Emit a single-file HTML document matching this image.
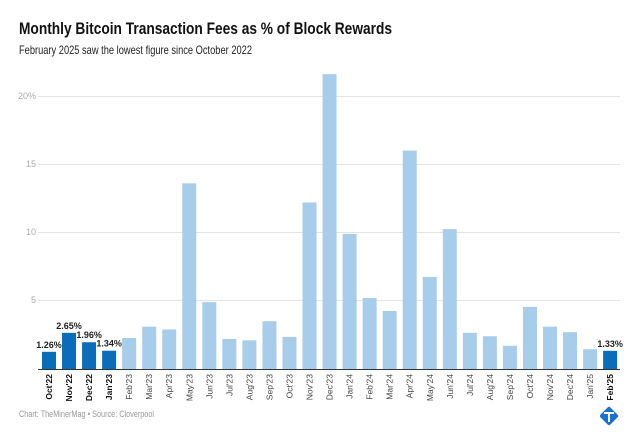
<!DOCTYPE html>
<html><head><meta charset="utf-8"><style>
body{margin:0;background:#fff;font-family:"Liberation Sans",sans-serif}
</style></head><body>
<svg width="640" height="440" xmlns="http://www.w3.org/2000/svg" font-family="Liberation Sans, sans-serif">
<rect width="640" height="440" fill="#fff"/>
<text x="19" y="34" font-size="17" font-weight="bold" fill="#111" textLength="373" lengthAdjust="spacingAndGlyphs">Monthly Bitcoin Transaction Fees as % of Block Rewards</text>
<text x="19" y="54" font-size="12" fill="#222" textLength="233" lengthAdjust="spacingAndGlyphs">February 2025 saw the lowest figure since October 2022</text>
<g stroke="#e4e4e4" stroke-width="1">
<line x1="38" x2="620" y1="96.5" y2="96.5"/><line x1="38" x2="620" y1="164.5" y2="164.5"/>
<line x1="38" x2="620" y1="232.5" y2="232.5"/><line x1="38" x2="620" y1="300.5" y2="300.5"/>
</g>
<g font-size="9" fill="#aaa" text-anchor="end">
<text x="36" y="99">20%</text><text x="36" y="167">15</text><text x="36" y="235">10</text><text x="36" y="303">5</text>
</g>
<g id="bars"></g>
<line x1="38" x2="620" y1="369.5" y2="369.5" stroke="#333" stroke-width="1"/>
<g id="labels"></g>
<text x="19" y="417" font-size="9" fill="#999" textLength="135" lengthAdjust="spacingAndGlyphs">Chart: TheMinerMag • Source: Cloverpool</text>
<g transform="translate(609,416) rotate(45)"><rect x="-7" y="-7" width="14" height="14" rx="2" fill="#1a73c8"/></g>
<path d="M604 413 h10 M609 413 v9" stroke="#fff" stroke-width="2"/>
<script>
var v=[1.26,2.65,1.96,1.34,2.27,3.1,2.9,13.6,4.9,2.2,2.1,3.5,2.35,12.2,21.6,9.9,5.2,4.25,16,6.75,10.25,2.65,2.4,1.7,4.55,3.1,2.7,1.45,1.33];
var n=["Oct'22","Nov'22","Dec'22","Jan'23","Feb'23","Mar'23","Apr'23","May'23","Jun'23","Jul'23","Aug'23","Sep'23","Oct'23","Nov'23","Dec'23","Jan'24","Feb'24","Mar'24","Apr'24","May'24","Jun'24","Jul'24","Aug'24","Sep'24","Oct'24","Nov'24","Dec'24","Jan'25","Feb'25"];
var dark=[0,1,2,3,28],lab={0:"1.26%",1:"2.65%",2:"1.96%",3:"1.34%",28:"1.33%"};
var ns="http://www.w3.org/2000/svg",b=document.getElementById("bars"),l=document.getElementById("labels");
for(var i=0;i<29;i++){var x=42+i*20.04,h=v[i]*13.65,d=dark.indexOf(i)>=0;
var r=document.createElementNS(ns,"rect");r.setAttribute("x",x);r.setAttribute("y",369-h);r.setAttribute("width",14);r.setAttribute("height",h);r.setAttribute("fill",d?"#0b6cb8":"#a7cdea");b.appendChild(r);
if(lab[i]){var t=document.createElementNS(ns,"text");t.setAttribute("x",x+7);t.setAttribute("y",369-h-4);t.setAttribute("font-size","9");t.setAttribute("font-weight","bold");t.setAttribute("fill","#222");t.setAttribute("text-anchor","middle");t.textContent=lab[i];b.appendChild(t);}
var s=document.createElementNS(ns,"text");s.setAttribute("transform","translate("+(x+10)+",374) rotate(-90)");s.setAttribute("font-size","8.5");s.setAttribute("text-anchor","end");s.setAttribute("fill",d?"#111":"#444");if(d)s.setAttribute("font-weight","bold");s.textContent=n[i];l.appendChild(s);}
</script>
</svg>
</body></html>
